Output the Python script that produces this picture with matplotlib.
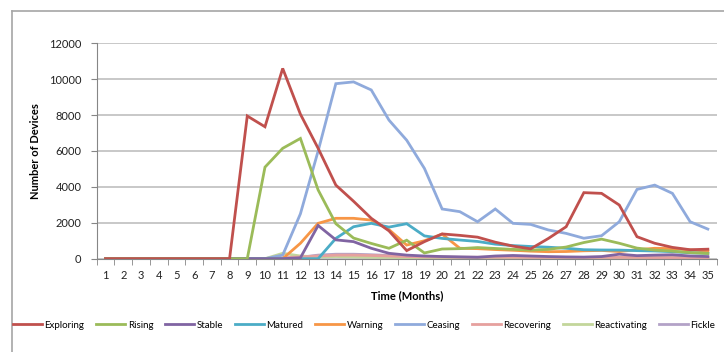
import matplotlib
matplotlib.use("Agg")
import matplotlib.pyplot as plt
from matplotlib.lines import Line2D

plt.rcParams['font.family'] = ['Lato', 'DejaVu Sans']

months = list(range(1, 36))

# values (months 1..35)
exploring = [0, 0, 0, 0, 0, 0, 0, 0, 7950, 7350, 10600, 8050, 6150, 4100, 3200,
             2250, 1550, 450, 950, 1380, 1300, 1200, 920, 700, 550, 1130, 1780,
             3680, 3640, 2990, 1225, 860, 630, 500, 530]
rising = [0, 0, 0, 0, 0, 0, 0, 0, 0, 5100, 6150, 6700, 3830, 1950, 1150, 850,
          580, 1030, 320, 540, 560, 620, 570, 520, 480, 520, 650, 900, 1090,
          860, 590, 480, 420, 340, 290]
stable = [0, 0, 0, 0, 0, 0, 0, 0, 0, 0, 0, 50, 1850, 1050, 950, 580, 300, 200,
          150, 120, 100, 80, 150, 180, 150, 120, 100, 90, 120, 250, 170, 200,
          220, 150, 120]
matured = [0, 0, 0, 0, 0, 0, 0, 0, 0, 0, 0, 0, 0, 1130, 1780, 1970, 1760, 1950,
           1270, 1130, 1040, 960, 810, 730, 680, 640, 580, 500, 485, 480, 450,
           430, 390, 330, 300]
warning = [0, 0, 0, 0, 0, 0, 0, 0, 0, 0, 0, 860, 1970, 2250, 2250, 2150, 1620,
           760, 1000, 1370, 580, 560, 510, 470, 420, 390, 400, 440, 460, 400,
           500, 580, 560, 490, 420]
ceasing = [0, 0, 0, 0, 0, 0, 0, 0, 0, 0, 200, 2500, 6000, 9750, 9850, 9400,
           7720, 6600, 5030, 2770, 2620, 2060, 2770, 1970, 1910, 1600, 1410,
           1140, 1280, 2060, 3860, 4100, 3640, 2060, 1650]
recovering = [0, 0, 0, 0, 0, 0, 0, 0, 0, 0, 50, 100, 150, 200, 200, 180, 150,
              120, 100, 90, 80, 80, 80, 80, 70, 70, 70, 70, 70, 70, 70, 60, 60,
              60, 60]
reactivating = [0, 0, 0, 0, 0, 0, 0, 0, 0, 0, 300, 150, 100, 120, 100, 80, 70,
                60, 60, 60, 60, 60, 60, 60, 50, 50, 50, 50, 50, 50, 50, 50, 50,
                50, 50]
fickle = [0, 0, 0, 0, 0, 0, 0, 0, 0, 0, 0, 80, 200, 250, 250, 220, 180, 150,
          100, 90, 80, 80, 80, 80, 70, 70, 70, 70, 70, 70, 70, 70, 70, 70, 70]

series = [("Exploring", exploring, "#C0504D"),
          ("Rising", rising, "#9BBB59"),
          ("Stable", stable, "#8064A2"),
          ("Matured", matured, "#4BACC6"),
          ("Warning", warning, "#F79646"),
          ("Ceasing", ceasing, "#8FAADC"),
          ("Recovering", recovering, "#E6A09E"),
          ("Reactivating", reactivating, "#C3D69B"),
          ("Fickle", fickle, "#B3A2C7")]

fig = plt.figure(figsize=(7.24, 3.52), dpi=100)
ax = fig.add_axes([96.7 / 724, 1 - 258.7 / 352, 620 / 724, 215.4 / 352])

# chart area border (left and top edges visible)
fig.add_artist(Line2D([11.5 / 724, 11.5 / 724], [0, 1 - 11 / 352],
                      color="#A6A6A6", lw=1.2))
fig.add_artist(Line2D([11.5 / 724, 1], [1 - 11 / 352, 1 - 11 / 352],
                      color="#A6A6A6", lw=1.2))

# draw the light ones first so the main series sit on top
for name, vals, col in reversed(series):
    ax.plot(months, vals, color=col, lw=2, label=name, solid_joinstyle="miter")

ax.set_xlim(0.5, 35.5)
ax.set_ylim(0, 12000)
ax.set_yticks(range(0, 12001, 2000))
ax.set_xticks(months)
ax.set_xticks([m + 0.5 for m in range(0, 36)], minor=True)
ax.grid(axis="y", color="#BFBFBF", lw=1.2)
ax.set_axisbelow(True)

for s in ["top", "right"]:
    ax.spines[s].set_visible(False)
ax.spines["left"].set_color("#868686")
ax.spines["bottom"].set_color("#868686")

ax.tick_params(axis="x", which="major", length=0, pad=8, labelsize=8,
               labelcolor="#222222")
ax.tick_params(axis="x", which="minor", length=4, color="#868686")
ax.tick_params(axis="y", length=4, color="#868686", pad=7, labelsize=8,
               labelcolor="#222222")

ax.set_xlabel("Time (Months)", fontsize=8, fontweight="bold", labelpad=7)
ax.set_ylabel("Number of Devices", fontsize=8, fontweight="bold", labelpad=6)

handles = [Line2D([], [], color=c, lw=2) for _, _, c in series]
labels = [n for n, _, _ in series]
fig.legend(handles, labels, loc="center left",
           bbox_to_anchor=(13 / 724, 1 - 325 / 352), ncol=9, frameon=False,
           fontsize=7, handlelength=3.0, handletextpad=0.25,
           columnspacing=1.2, borderaxespad=0, borderpad=0)

fig.savefig("out.png", dpi=100)
